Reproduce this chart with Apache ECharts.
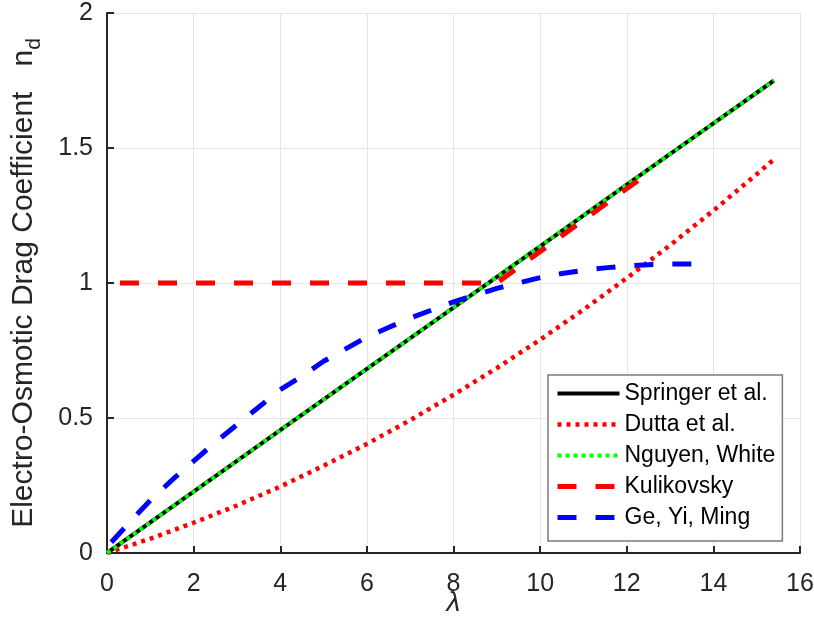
<!DOCTYPE html>
<html>
<head>
<meta charset="utf-8">
<script src="https://cdn.jsdelivr.net/npm/echarts@6/dist/echarts.min.js"></script>
<style>
html,body{margin:0;padding:0;background:#fff;}
#chart{width:814px;height:632px;}
</style>
</head>
<body>
<div id="chart"></div>
<script>
// ---- data ----
const xTicks = [0, 2, 4, 6, 8, 10, 12, 14, 16];
const yTicks = [0, 0.5, 1, 1.5, 2];

const springerLambda = [0, 2, 4, 6, 8, 10, 12, 14, 15.4];
const springerND     = [0, 0.227, 0.455, 0.682, 0.909, 1.136, 1.364, 1.591, 1.75];

const duttaLambda = [0, 1, 2, 3, 4, 5, 6, 7, 8, 9, 10, 11, 12, 13, 14, 15, 15.4];
const duttaND     = [0, 0.053, 0.112, 0.176, 0.246, 0.323, 0.404, 0.492, 0.586, 0.685, 0.79, 0.901, 1.018, 1.14, 1.268, 1.403, 1.458];

const nguyenLambda = [0, 2, 4, 6, 8, 10, 12, 14, 15.4];
const nguyenND     = [0, 0.227, 0.455, 0.682, 0.909, 1.136, 1.364, 1.591, 1.75];

const kulikLambda = [0.3, 9, 12.4];
const kulikND     = [1, 1, 1.396];

const geLambda = [0.1, 0.5, 1, 1.5, 2, 2.5, 3, 3.5, 4, 4.5, 5, 5.5, 6, 6.5, 7, 7.5, 8, 8.5, 9, 9.5, 10, 10.5, 11, 11.5, 12, 12.5, 13, 13.5];
const geND     = [0.04, 0.11, 0.195, 0.27, 0.34, 0.41, 0.475, 0.54, 0.605, 0.655, 0.71, 0.755, 0.80, 0.835, 0.87, 0.90, 0.93, 0.955, 0.98, 1.0, 1.02, 1.035, 1.047, 1.056, 1.063, 1.068, 1.07, 1.07];

const seriesNames = ['Springer et al.', 'Dutta et al.', 'Nguyen, White', 'Kulikovsky', 'Ge, Yi, Ming'];

function pairs(xs, ys) { return xs.map((x, i) => [x, ys[i]]); }

const FONT = 'Liberation Sans, Arial, Helvetica, sans-serif';
const TXT = '#262626';

const styles = [
  {color: '#000000', width: 4, type: 'solid'},
  {color: '#ff0000', width: 4.5, type: [4, 5]},
  {color: '#00ff00', width: 4, type: [4, 4]},
  {color: '#ff0000', width: 5, type: [19, 19]},
  {color: '#0000ff', width: 5, type: [19, 19]}
];
const dataSets = [
  pairs(springerLambda, springerND),
  pairs(duttaLambda, duttaND),
  pairs(nguyenLambda, nguyenND),
  pairs(kulikLambda, kulikND),
  pairs(geLambda, geND)
];

const chart = echarts.init(document.getElementById('chart'), null, {renderer: 'canvas'});
chart.setOption({
  animation: false,
  backgroundColor: '#ffffff',
  grid: {left: 107, right: 14, top: 13, bottom: 79, containLabel: false, outerBoundsMode: 'none'},
  xAxis: {
    type: 'value', min: xTicks[0], max: xTicks[xTicks.length - 1], interval: 2,
    name: 'λ', nameLocation: 'middle', nameGap: 36, nameMoveOverlap: false,
    nameTextStyle: {fontFamily: FONT, fontSize: 28, fontStyle: 'italic', color: TXT},
    axisLine: {show: true, onZero: false, lineStyle: {color: TXT, width: 2}},
    axisTick: {show: true, inside: true, length: 7, lineStyle: {color: TXT, width: 2}},
    axisLabel: {fontFamily: FONT, fontSize: 25, color: TXT, margin: 19},
    splitLine: {show: true, lineStyle: {color: '#e5e5e5', width: 1}}
  },
  yAxis: {
    type: 'value', min: yTicks[0], max: yTicks[yTicks.length - 1], interval: 0.5,
    name: '{m|Electro-Osmotic Drag Coefficient   n}{s|d}',
    nameLocation: 'middle', nameGap: 62, nameRotate: 90, nameMoveOverlap: false,
    nameTextStyle: {
      fontFamily: FONT, color: TXT,
      rich: {
        m: {fontFamily: FONT, fontSize: 30, color: TXT, lineHeight: 36, verticalAlign: 'bottom', padding: [0, 0, 6, 0]},
        s: {fontFamily: FONT, fontSize: 21, color: TXT, lineHeight: 25, verticalAlign: 'bottom'}
      }
    },
    axisLine: {show: true, onZero: false, lineStyle: {color: TXT, width: 2}},
    axisTick: {show: true, inside: true, length: 7, lineStyle: {color: TXT, width: 2}},
    axisLabel: {fontFamily: FONT, fontSize: 25, color: TXT, margin: 14},
    splitLine: {show: true, lineStyle: {color: '#e5e5e5', width: 1}}
  },
  legend: {
    orient: 'vertical', left: 548, top: 375,
    padding: [7, 7, 12, 7], itemGap: 8, itemWidth: 62, itemHeight: 14,
    backgroundColor: '#ffffff', borderColor: '#7a7a7a', borderWidth: 1.5, borderRadius: 0,
    textStyle: {fontFamily: FONT, fontSize: 23, color: '#000'},
    itemStyle: {opacity: 0},
    data: seriesNames.map((n, i) => ({
      name: n,
      itemStyle: {opacity: 0},
      lineStyle: {color: styles[i].color, width: styles[i].width, type: styles[i].type, cap: 'butt'}
    }))
  },
  series: seriesNames.map((n, i) => ({
    name: n, type: 'line', data: dataSets[i], symbol: 'none', showSymbol: false, z: 2 + i,
    lineStyle: {color: styles[i].color, width: styles[i].width, type: styles[i].type, cap: 'butt'},
    itemStyle: {color: styles[i].color}
  }))
});
</script>
</body>
</html>
